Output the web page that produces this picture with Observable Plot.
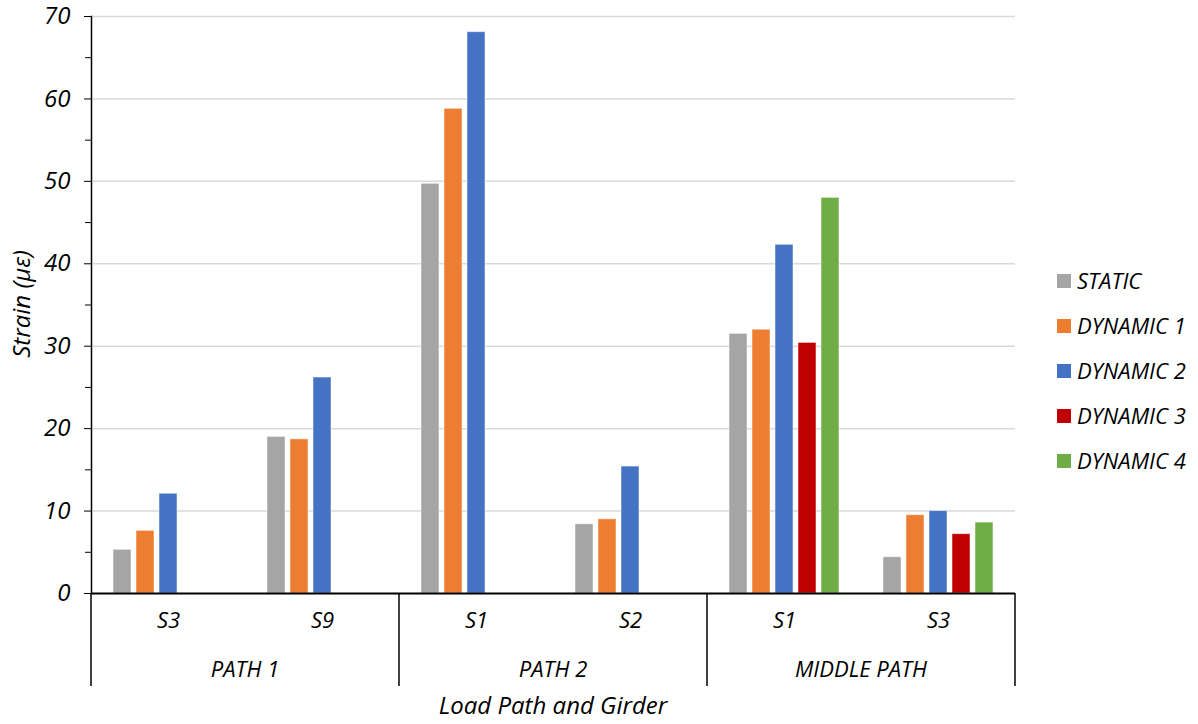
<!DOCTYPE html>
<html><head><meta charset="utf-8">
<script src="https://cdn.jsdelivr.net/npm/d3@7"></script>
<script src="https://cdn.jsdelivr.net/npm/@observablehq/plot@0.6"></script>
<style>body{margin:0;background:#fff} #chart{width:1198px;height:724px}</style>
</head><body><div id="chart"></div>
<script>
const series = ["STATIC", "DYNAMIC 1", "DYNAMIC 2", "DYNAMIC 3", "DYNAMIC 4"];
const colors = ["#a5a5a5", "#ed7d31", "#4472c4", "#c00000", "#70ad47"];
const paths = ["PATH 1", "PATH 1", "PATH 2", "PATH 2", "MIDDLE PATH", "MIDDLE PATH"];
const girders = ["S3", "S9", "S1", "S2", "S1", "S3"];
const staticVals = [5.3, 19.0, 49.7, 8.4, 31.5, 4.4];
const dynamic1 = [7.6, 18.7, 58.8, 9.0, 32.0, 9.5];
const dynamic2 = [12.1, 26.2, 68.1, 15.4, 42.3, 10.0];
const dynamic3 = [null, null, null, null, 30.4, 7.2];
const dynamic4 = [null, null, null, null, 48.0, 8.6];
const yTicks = [0, 10, 20, 30, 40, 50, 60, 70];
const yMinor = [5, 15, 25, 35, 45, 55, 65];

const valueArrays = [staticVals, dynamic1, dynamic2, dynamic3, dynamic4];
const keys = girders.map((g, i) => paths[i] + "|" + g);
const rows = [];
keys.forEach((k, i) => valueArrays.forEach((arr, j) => {
  if (arr[i] != null) rows.push({key: k, series: series[j], value: arr[i]});
}));

const FONT = "'Open Sans', sans-serif";
const plot = Plot.plot({
  width: 1198, height: 724,
  marginTop: 16, marginBottom: 131, marginLeft: 90, marginRight: 182,
  style: {fontFamily: FONT, fontStyle: "italic", fontSize: "20px", color: "#000", background: "#fff"},
  fx: {domain: keys, padding: 0},
  x: {domain: series, paddingInner: 0.2, paddingOuter: 0.87, axis: null},
  y: {domain: [0, 70]},
  color: {domain: series, range: colors},
  marks: [
    Plot.gridY(yTicks.slice(1), {stroke: "#d9d9d9", strokeOpacity: 1, strokeWidth: 1.5}),
    Plot.barY(rows, {fx: "key", x: "series", y: "value", fill: "series", stroke: "#fff", strokeOpacity: 0.5, strokeWidth: 1}),
    Plot.axisY(yTicks, {tickSize: 7, tickPadding: 14, fontSize: 24, label: null}),
    Plot.axisY(yMinor, {tickSize: 6, tickFormat: () => "", label: null}),
    Plot.axisFx({anchor: "bottom", tickFormat: k => k.split("|")[1], tickSize: 0, tickPadding: 19, fontSize: 22, label: null}),
    Plot.ruleY([0], {stroke: "#000", strokeWidth: 2}),
    Plot.frame({anchor: "left", facetAnchor: "left", stroke: "#000", strokeWidth: 1.5})
  ]
});
document.getElementById("chart").appendChild(plot);

const svg = d3.select(plot);
svg.selectAll("[aria-label='y-axis tick label']").attr("font-size", 23);
svg.selectAll("[aria-label='fx-axis tick label']").attr("font-size", 22);
const fx = plot.scale("fx");
const bw = fx.bandwidth;
const y0 = 593, yEnd = 686;
const sepX = [fx.apply(keys[0]), fx.apply(keys[2]), fx.apply(keys[4]), fx.apply(keys[5]) + bw];
const g = svg.append("g").attr("text-anchor", "middle");
sepX.forEach(x => g.append("line").attr("x1", x).attr("x2", x).attr("y1", y0).attr("y2", yEnd)
  .attr("stroke", "#000").attr("stroke-width", 1.5));
[1, 3, 5].forEach(i => g.append("text").attr("x", fx.apply(keys[i])).attr("y", 669)
  .attr("dy", "0.35em").attr("font-size", 22).text(paths[i]));
g.append("text").attr("x", (fx.apply(keys[0]) + fx.apply(keys[5]) + bw) / 2).attr("y", 706)
  .attr("dy", "0.35em").attr("font-size", 24).text("Load Path and Girder");
g.append("text").attr("transform", "translate(22,304) rotate(-90)")
  .attr("dy", "0.35em").attr("font-size", 24).text("Strain (με)");
const color = plot.scale("color");
const lg = svg.append("g").attr("text-anchor", "start");
series.forEach((s, i) => {
  const cy = 281 + 45 * i;
  lg.append("rect").attr("x", 1057).attr("y", cy - 7).attr("width", 14).attr("height", 14).attr("fill", color.apply(s));
  lg.append("text").attr("x", 1077).attr("y", cy).attr("dy", "0.35em").attr("font-size", 22).text(s);
});
</script>
</body></html>
